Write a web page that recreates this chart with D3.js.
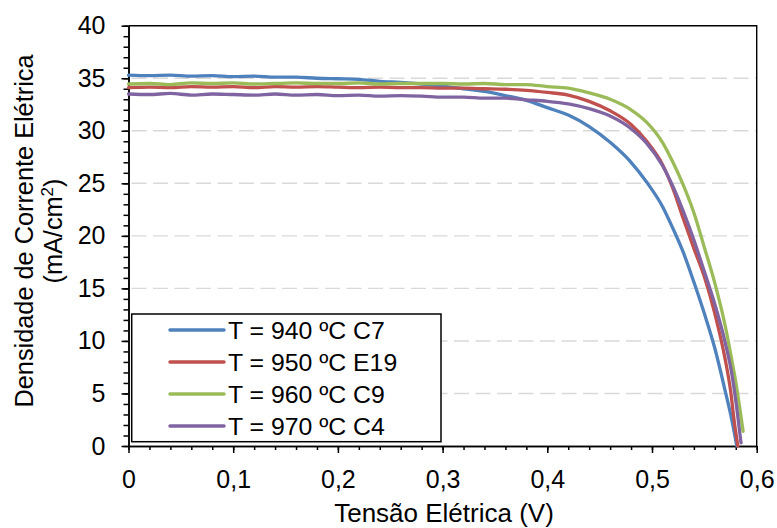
<!DOCTYPE html>
<html>
<head>
<meta charset="utf-8">
<script src="https://cdn.jsdelivr.net/npm/d3@7"></script>
<style>
body { margin: 0; background: #fff; }
text { font-family: "Liberation Sans", Arial, sans-serif; fill: #000; }
</style>
</head>
<body>
<svg class="chart" width="777" height="528"></svg>
<script>
// data
const seriesNames = ["T = 940 ºC C7", "T = 950 ºC E19", "T = 960 ºC C9", "T = 970 ºC C4"]
const seriesColors = ["#4f81bd", "#c0504d", "#9bbb59", "#8064a2"]

const vC7 = [0, 0.02, 0.04, 0.06, 0.08, 0.10, 0.12, 0.14, 0.16, 0.18, 0.20, 0.22, 0.24, 0.26, 0.28, 0.30, 0.32, 0.34, 0.36, 0.38, 0.40, 0.42, 0.44, 0.46, 0.48, 0.495, 0.51, 0.52, 0.53, 0.54, 0.55, 0.56, 0.57, 0.576, 0.581]
const jC7 = [35.3, 35.25, 35.3, 35.2, 35.25, 35.15, 35.2, 35.1, 35.1, 35.0, 34.95, 34.9, 34.7, 34.6, 34.45, 34.25, 34.0, 33.75, 33.35, 32.9, 32.2, 31.5, 30.4, 28.9, 27.0, 25.1, 22.8, 20.7, 18.4, 15.6, 12.6, 9.3, 5.2, 2.6, 0.0]

const vE19 = [0, 0.02, 0.04, 0.06, 0.08, 0.10, 0.12, 0.14, 0.16, 0.18, 0.20, 0.22, 0.24, 0.26, 0.28, 0.30, 0.32, 0.34, 0.36, 0.38, 0.40, 0.42, 0.44, 0.46, 0.48, 0.495, 0.51, 0.52, 0.53, 0.54, 0.55, 0.56, 0.57, 0.575, 0.579, 0.582]
const jE19 = [34.1, 34.15, 34.1, 34.2, 34.15, 34.2, 34.1, 34.2, 34.15, 34.2, 34.15, 34.1, 34.15, 34.1, 34.1, 34.05, 34.05, 34.0, 33.95, 33.85, 33.65, 33.4, 32.8, 31.9, 30.6, 29.0, 26.8, 24.5, 21.6, 18.8, 16.1, 12.6, 8.2, 5.3, 2.0, 0.0]

const vC9 = [0, 0.02, 0.04, 0.06, 0.08, 0.10, 0.12, 0.14, 0.16, 0.18, 0.20, 0.22, 0.24, 0.26, 0.28, 0.30, 0.32, 0.34, 0.36, 0.38, 0.40, 0.42, 0.44, 0.46, 0.48, 0.495, 0.51, 0.52, 0.53, 0.54, 0.55, 0.56, 0.57, 0.576, 0.58, 0.584, 0.587]
const jC9 = [34.45, 34.5, 34.4, 34.55, 34.5, 34.55, 34.45, 34.5, 34.55, 34.5, 34.5, 34.55, 34.45, 34.5, 34.5, 34.5, 34.45, 34.5, 34.4, 34.4, 34.2, 34.05, 33.6, 33.0, 32.0, 30.8, 28.9, 27.0, 24.8, 22.2, 18.9, 15.5, 11.4, 8.3, 6.1, 3.5, 1.4]

const vC4 = [0, 0.02, 0.04, 0.06, 0.08, 0.10, 0.12, 0.14, 0.16, 0.18, 0.20, 0.22, 0.24, 0.26, 0.28, 0.30, 0.32, 0.34, 0.36, 0.38, 0.40, 0.42, 0.44, 0.46, 0.48, 0.495, 0.51, 0.52, 0.53, 0.54, 0.55, 0.56, 0.57, 0.576, 0.581, 0.585]
const jC4 = [33.5, 33.45, 33.55, 33.4, 33.5, 33.45, 33.4, 33.5, 33.4, 33.45, 33.35, 33.4, 33.3, 33.35, 33.3, 33.2, 33.2, 33.1, 33.1, 32.95, 32.8, 32.55, 32.1, 31.4, 30.2, 28.8, 26.7, 24.7, 22.3, 19.6, 16.6, 13.5, 9.8, 7.0, 3.6, 0.3]

const xTicks = [0, 0.1, 0.2, 0.3, 0.4, 0.5, 0.6]
const yTicks = [0, 5, 10, 15, 20, 25, 30, 35, 40]

const series = [[vC7, jC7], [vE19, jE19], [vC9, jC9], [vC4, jC4]]
	.map((s, i) => ({ name: seriesNames[i], color: seriesColors[i], points: s[0].map((v, k) => [v, s[1][k]]) }))

const svg = d3.select("svg.chart")

const x = d3.scaleLinear().domain([0, 0.6]).range([128.5, 756.7])
const y = d3.scaleLinear().domain([0, 40]).range([446, 25.7])

const ptFormat = d3.formatLocale({ decimal: ",", thousands: ".", grouping: [3], currency: ["", ""] }).format(".1f")
const xLabel = d => d === 0 ? "0" : ptFormat(d)

// dashed gridlines
svg.append("g")
	.selectAll("line")
	.data(yTicks.filter(d => d > 0 && d < 40))
	.enter()
	.append("line")
	.attr("x1", x(0) + 3)
	.attr("x2", x(0.6))
	.attr("y1", d => y(d))
	.attr("y2", d => y(d))
	.attr("stroke", "#d9d9d9")
	.attr("stroke-width", 1.4)
	.attr("stroke-dasharray", "15,6.5")

// top and right border
svg.append("path")
	.attr("d", "M" + x(0) + "," + y(40) + "H" + x(0.6) + "V" + y(0))
	.attr("fill", "none")
	.attr("stroke", "#000")
	.attr("stroke-width", 1.4)

// minor ticks
svg.append("g")
	.attr("transform", "translate(0," + y(0) + ")")
	.call(d3.axisBottom(x).tickValues(d3.range(0, 0.601, 0.02)).tickSize(4).tickSizeOuter(0).tickFormat(""))
svg.append("g")
	.attr("transform", "translate(" + x(0) + ",0)")
	.call(d3.axisLeft(y).tickValues(d3.range(0, 41, 1)).tickSize(5).tickSizeOuter(0).tickFormat(""))

// major axes
const xAxis = svg.append("g")
	.attr("transform", "translate(0," + y(0) + ")")
	.call(d3.axisBottom(x).tickValues(xTicks).tickSize(7).tickSizeOuter(0).tickPadding(17).tickFormat(xLabel))
const yAxis = svg.append("g")
	.attr("transform", "translate(" + x(0) + ",0)")
	.call(d3.axisLeft(y).tickValues(yTicks).tickSize(7).tickSizeOuter(0).tickPadding(16))

svg.selectAll(".domain, .tick line").attr("stroke", "#000").attr("stroke-width", 1.5)
xAxis.selectAll("text").attr("font-size", 25)
yAxis.selectAll("text").attr("font-size", 25)

// curves
const line = d3.line().curve(d3.curveMonotoneX).x(d => x(d[0])).y(d => y(d[1]))

svg.append("g")
	.selectAll("path")
	.data(series)
	.enter()
	.append("path")
	.attr("d", d => line(d.points))
	.attr("fill", "none")
	.attr("stroke", d => d.color)
	.attr("stroke-width", 3.3)
	.attr("stroke-linejoin", "round")
	.attr("stroke-linecap", "round")

// axis titles
svg.append("text")
	.attr("x", 444)
	.attr("y", 522)
	.attr("text-anchor", "middle")
	.attr("font-size", 26)
	.text("Tensão Elétrica (V)")

const yTitle = svg.append("text")
	.attr("transform", "translate(0," + 231 + ") rotate(-90)")
	.attr("text-anchor", "middle")
	.attr("font-size", 25.3)
yTitle.append("tspan").attr("x", 0).attr("y", 33).text("Densidade de Corrente Elétrica")
const unit = yTitle.append("tspan").attr("x", 0).attr("y", 62)
unit.append("tspan").text("(mA/cm")
unit.append("tspan").attr("font-size", 17).attr("dy", -9).text("2")
unit.append("tspan").attr("dy", 9).text(")")

// legend
const legend = svg.append("g")

legend.append("rect")
	.attr("x", 131.7)
	.attr("y", 314)
	.attr("width", 309.3)
	.attr("height", 127.7)
	.attr("fill", "#fff")
	.attr("stroke", "#000")
	.attr("stroke-width", 1.5)

const legendRows = legend
	.selectAll("g")
	.data(series)
	.enter()
	.append("g")
	.attr("transform", (d, i) => "translate(0," + (330 + i * 32) + ")")

legendRows
	.append("line")
	.attr("x1", 170)
	.attr("x2", 224)
	.attr("stroke", d => d.color)
	.attr("stroke-width", 3.5)
	.attr("stroke-linecap", "round")

legendRows
	.append("text")
	.attr("x", 228)
	.attr("y", 9)
	.attr("font-size", 24.8)
	.text(d => d.name)
</script>
</body>
</html>
